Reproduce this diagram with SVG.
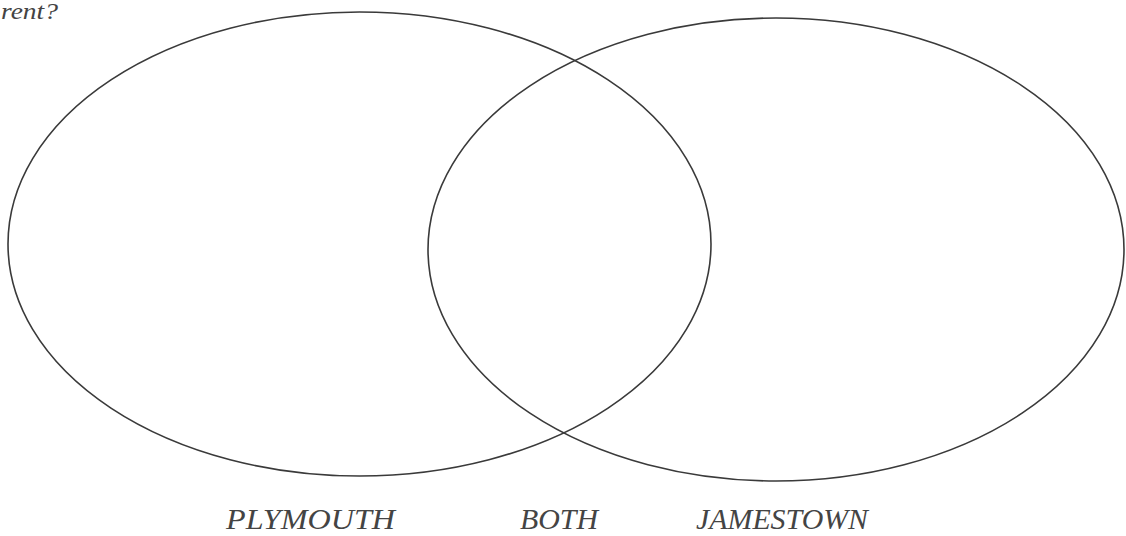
<svg xmlns="http://www.w3.org/2000/svg" width="1126" height="536" viewBox="0 0 1126 536">
<style>
.c{fill:none;stroke:#3a3a3a;stroke-width:1.6}
.t{font-family:"Liberation Serif","DejaVu Serif",serif;font-style:italic;fill:#444}
.l{font-size:30px}
</style>
<rect width="1126" height="536" fill="#fff"/>
<text class="t" x="1" y="19" font-size="23" textLength="57" lengthAdjust="spacingAndGlyphs">rent?</text>
<g id="plymouth"><ellipse class="c" cx="359.5" cy="244" rx="351.5" ry="232"/></g>
<g id="jamestown"><ellipse class="c" cx="776" cy="249.5" rx="348" ry="231.5"/></g>
<g id="connectors"></g>
<g id="labels">
<text class="t l" x="226" y="529" textLength="169" lengthAdjust="spacingAndGlyphs">PLYMOUTH</text>
<text class="t l" x="520" y="529" textLength="78" lengthAdjust="spacingAndGlyphs">BOTH</text>
<text class="t l" x="696" y="529" textLength="172" lengthAdjust="spacingAndGlyphs">JAMESTOWN</text>
</g>
</svg>
